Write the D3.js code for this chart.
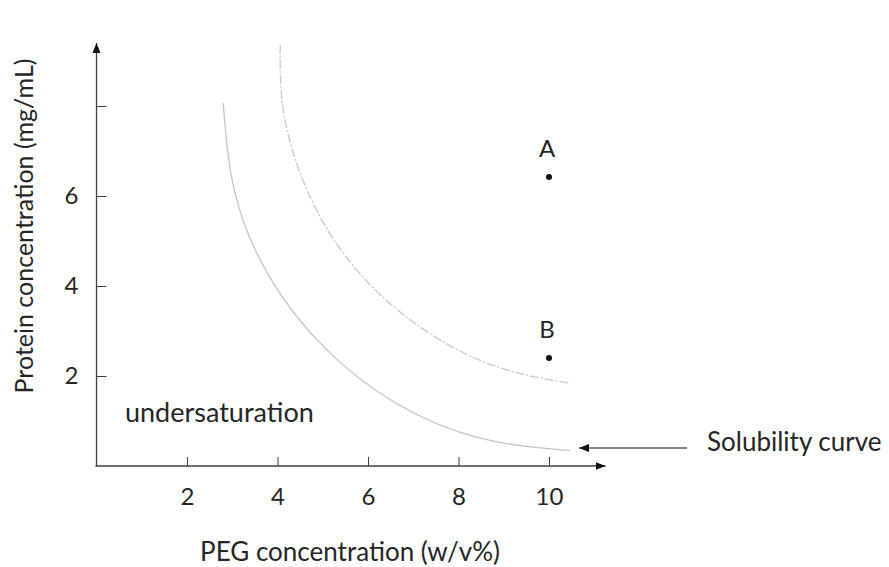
<!DOCTYPE html>
<html>
<head>
<meta charset="utf-8">
<script src="https://cdn.jsdelivr.net/npm/d3@7"></script>
<style>
  body { margin: 0; background: #fff; }
  text { font-family: Lato, "Open Sans", sans-serif; fill: #262626; }
</style>
</head>
<body>
<div id="chart"></div>
<script>
// values (PEG w/v% , protein mg/mL)
var solubilityCurve = [
  [2.80, 8.07], [3.06, 6.07], [3.82, 4.21], [5.05, 2.62],
  [6.63, 1.39], [8.48, 0.62], [10.46, 0.34]
];
var upperCurve = [
  [4.06, 9.36], [4.15, 7.78], [4.72, 5.98], [5.73, 4.38],
  [7.12, 3.11], [8.78, 2.23], [10.46, 1.84]
];
var points = [
  { label: 'A', peg: 10, protein: 6.42 },
  { label: 'B', peg: 10, protein: 2.4 }
];
var xTicks = [2, 4, 6, 8, 10];
var yTicks = [2, 4, 6, 8];
var yTickLabels = ['2', '4', '6', ''];

var width = 889,
  height = 567;

var svg = d3
  .select('#chart')
  .append('svg')
  .attr('width', width)
  .attr('height', height);

var x = d3.scaleLinear().domain([0, 10]).range([96.5, 549]);
var y = d3.scaleLinear().domain([0, 8]).range([466, 106]);

var defs = svg.append('defs');
defs
  .append('marker')
  .attr('id', 'arrow')
  .attr('viewBox', '0 0 10 10')
  .attr('refX', 10)
  .attr('refY', 5)
  .attr('markerWidth', 10)
  .attr('markerHeight', 10)
  .attr('markerUnits', 'userSpaceOnUse')
  .attr('orient', 'auto')
  .append('path')
  .attr('d', 'M0,1 L10,5 L0,9 Z')
  .attr('fill', '#111');

// x axis
var xAxis = svg
  .append('g')
  .attr('transform', 'translate(0,' + y(0) + ')')
  .call(d3.axisBottom(x).tickValues(xTicks).tickSize(-9).tickPadding(22));
xAxis.select('.domain').remove();
xAxis.selectAll('line').attr('stroke', '#404040');
xAxis
  .selectAll('text')
  .style('font-size', '24px')
  .style('font-family', 'Lato')
  .attr('fill', '#262626');

// y axis
var yAxis = svg
  .append('g')
  .attr('transform', 'translate(' + x(0) + ',0)')
  .call(
    d3
      .axisLeft(y)
      .tickValues(yTicks)
      .tickSize(-10)
      .tickPadding(18)
      .tickFormat((d, i) => yTickLabels[i])
  );
yAxis.select('.domain').remove();
yAxis.selectAll('line').attr('stroke', '#404040');
yAxis
  .selectAll('text')
  .style('font-size', '24px')
  .style('font-family', 'Lato')
  .attr('fill', '#262626');

// axis lines with arrows
svg
  .append('line')
  .attr('x1', x(0) - 1)
  .attr('x2', x(11.25))
  .attr('y1', y(0))
  .attr('y2', y(0))
  .attr('stroke', '#404040')
  .attr('stroke-width', 1.3)
  .attr('marker-end', 'url(#arrow)');
svg
  .append('line')
  .attr('x1', x(0))
  .attr('x2', x(0))
  .attr('y1', y(0))
  .attr('y2', y(9.4))
  .attr('stroke', '#404040')
  .attr('stroke-width', 1.3)
  .attr('marker-end', 'url(#arrow)');

var line = d3
  .line()
  .curve(d3.curveNatural)
  .x((d) => x(d[0]))
  .y((d) => y(d[1]));

svg
  .append('path')
  .datum(solubilityCurve)
  .attr('fill', 'none')
  .attr('stroke', '#c4c4c4')
  .attr('stroke-width', 1.3)
  .attr('d', line);

svg
  .append('path')
  .datum(upperCurve)
  .attr('fill', 'none')
  .attr('stroke', '#c8c8c8')
  .attr('stroke-width', 1.3)
  .attr('stroke-dasharray', '9,2,2,2')
  .attr('d', line);

// points A and B
svg
  .selectAll('.dot')
  .data(points)
  .enter()
  .append('circle')
  .attr('class', 'dot')
  .attr('cx', (d) => x(d.peg))
  .attr('cy', (d) => y(d.protein))
  .attr('r', 3)
  .attr('fill', '#111');

svg
  .selectAll('.dot-label')
  .data(points)
  .enter()
  .append('text')
  .attr('class', 'dot-label')
  .attr('x', (d) => x(d.peg) - 2)
  .attr('y', (d) => y(d.protein) - 20)
  .attr('text-anchor', 'middle')
  .style('font-size', '24px')
  .text((d) => d.label);

// region label
svg
  .append('text')
  .attr('x', 125)
  .attr('y', 422)
  .style('font-size', '27px')
  .text('undersaturation');

// solubility curve callout
svg
  .append('line')
  .attr('x1', 687)
  .attr('x2', 579)
  .attr('y1', 448)
  .attr('y2', 448)
  .attr('stroke', '#111')
  .attr('stroke-width', 1.2)
  .attr('marker-end', 'url(#arrow)');
svg
  .append('text')
  .attr('x', 707)
  .attr('y', 451)
  .style('font-size', '26px')
  .text('Solubility curve');

// axis titles
svg
  .append('text')
  .attr('x', 350)
  .attr('y', 561)
  .attr('text-anchor', 'middle')
  .style('font-size', '26px')
  .text('PEG concentration (w/v%)');

svg
  .append('text')
  .attr('transform', 'translate(33,226) rotate(-90)')
  .attr('text-anchor', 'middle')
  .style('font-size', '25px')
  .text('Protein concentration (mg/mL)');
</script>
</body>
</html>
